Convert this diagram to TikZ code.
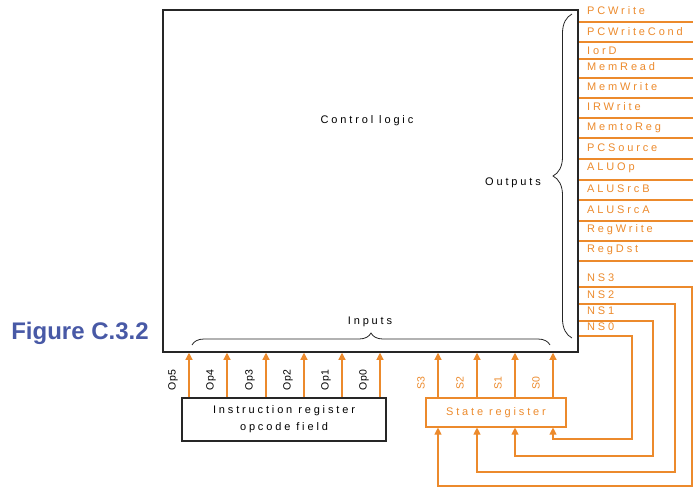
\documentclass[tikz,border=0pt]{standalone}
\usepackage{fontspec}
\setmainfont{Liberation Sans}
\newfontfamily\spaced[LetterSpace=26]{Liberation Sans}
\newfontfamily\tight[LetterSpace=8]{Liberation Sans}
\usepackage{tikz}
\usetikzlibrary{arrows.meta,positioning,calc,decorations.pathreplacing}
\definecolor{sigorange}{RGB}{236,138,44}
\definecolor{capblue}{RGB}{72,89,166}

\begin{document}
\begin{tikzpicture}[x=1pt, y=-1pt, font=\spaced\fontsize{11}{17}\selectfont,
  box/.style={draw=black!85, line width=1.5pt, inner sep=0pt},
  sig/.style={sigorange, line width=1.1pt},
  arr/.style={sig, -{Triangle[width=7pt,length=7pt]}},
  lab/.style={anchor=west, text=sigorange, inner sep=0pt},
  brc/.style={decorate, decoration={brace, amplitude=#1}, line width=0.8pt, black!85}]
\useasboundingbox (0,0) rectangle (693,488);
% control logic and its registers
\node[box, minimum width=415pt, minimum height=342pt] (ctrl) at (370.5,181) {};
\node (ctrltxt) at (367,121) {Control logic};
\node[box, line width=1.1pt, minimum width=204pt, minimum height=43pt, align=center] (ir) at (284,419.5)
  {Instruction register\\opcode field};
\node[draw=sigorange, line width=1.1pt, minimum width=140pt, minimum height=29pt, text=sigorange] (sr) at (496,412.5)
  {State register};
\node[font=\rmfamily\bfseries\fontsize{24}{28}\selectfont, text=capblue] (fig) at (80,333) {Figure C.3.2};
% opcode inputs
\foreach \x/\n in {189/5,227/4,266/3,304/2,342/1,380/0} {
  \coordinate (op\n) at (\x,0);
  \draw[arr] (ir.north -| op\n) -- (ctrl.south -| op\n);
  \node[rotate=90, font=\tight\fontsize{10.5}{12}\selectfont] (oplab\n) at (\x-16,380) {Op\n};
}
% state inputs
\foreach \x/\n in {438/3,477/2,515/1,553/0} {
  \coordinate (s\n) at (\x,0);
  \draw[arr] (sr.north -| s\n) -- (ctrl.south -| s\n);
  \node[rotate=90, text=sigorange, font=\tight\fontsize{10.5}{12}\selectfont] (slab\n) at (\x-17,383) {S\n};
}
% control outputs
\foreach \t/\ly/\y in {PCWrite/11/22, PCWriteCond/32/42, IorD/51/59, MemRead/67/78, MemWrite/87/98,
  IRWrite/107/118, MemtoReg/128/138, PCSource/148/159, ALUOp/168/180, ALUSrcB/189/200,
  ALUSrcA/210/221, RegWrite/230/241, RegDst/250/261} {
  \node[lab] (o\t) at (587,\ly) {\t};
  \draw[sig] (ctrl.east |- 0,\y) -- (693,\y);
}
% next state fed back
\foreach \n/\ly/\y/\xr/\yb in {3/278/287/692/486, 2/295/304/675/472, 1/311/321/653/456, 0/327/336/632/439} {
  \node[lab] (ns\n) at (587,\ly) {NS\n};
  \draw[arr] (ctrl.east |- 0,\y) -- (\xr,\y) -- (\xr,\yb) -| (sr.south -| s\n);
}
% braces
\draw[brc=12pt] (192,345) -- (550,345);
\node (inlab) at (370,322) {Inputs};
\draw[brc=19pt] (572,338) -- (572,14);
\node (outlab) at (513,183) {Outputs};
\end{tikzpicture}
\end{document}
